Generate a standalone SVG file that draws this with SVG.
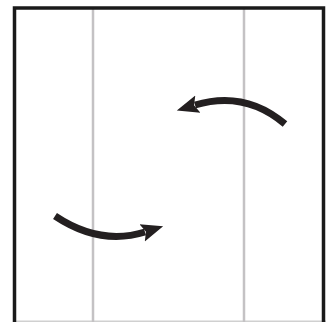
<svg xmlns="http://www.w3.org/2000/svg" width="333" height="322" viewBox="0 0 333 322">
<style>
.frame{fill:none;stroke:#1a1a1a;stroke-width:3.5}
.fold{stroke:#c4c2c4;stroke-width:2.5}
.edge{stroke:#d0d0d0;stroke-width:1.5}
.arr{fill:none;stroke:#231f20;stroke-width:7}
</style>
<defs>
<marker id="ah" markerUnits="userSpaceOnUse" markerWidth="24" markerHeight="20" refX="3" refY="10" orient="auto">
<path d="M0,1 L22,10 L0,19 L4,10 Z" fill="#231f20"/>
</marker>
</defs>
<g id="sheet">
<rect x="0" y="0" width="333" height="322" fill="#fff"/>
<line class="edge" x1="14" y1="321.2" x2="326" y2="321.2"/>
<line class="fold" x1="93" y1="8" x2="93" y2="322"/>
<line class="fold" x1="244" y1="8" x2="244" y2="322"/>
<path class="frame" d="M14.5,322 L14.5,8 L323.5,8 L323.5,322"/>
</g>
<g id="connectors">
<path class="arr" d="M285,124 Q245,90 195,105" marker-end="url(#ah)"/>
<path class="arr" d="M55,216 Q100,246 145,232" marker-end="url(#ah)"/>
</g>
</svg>
